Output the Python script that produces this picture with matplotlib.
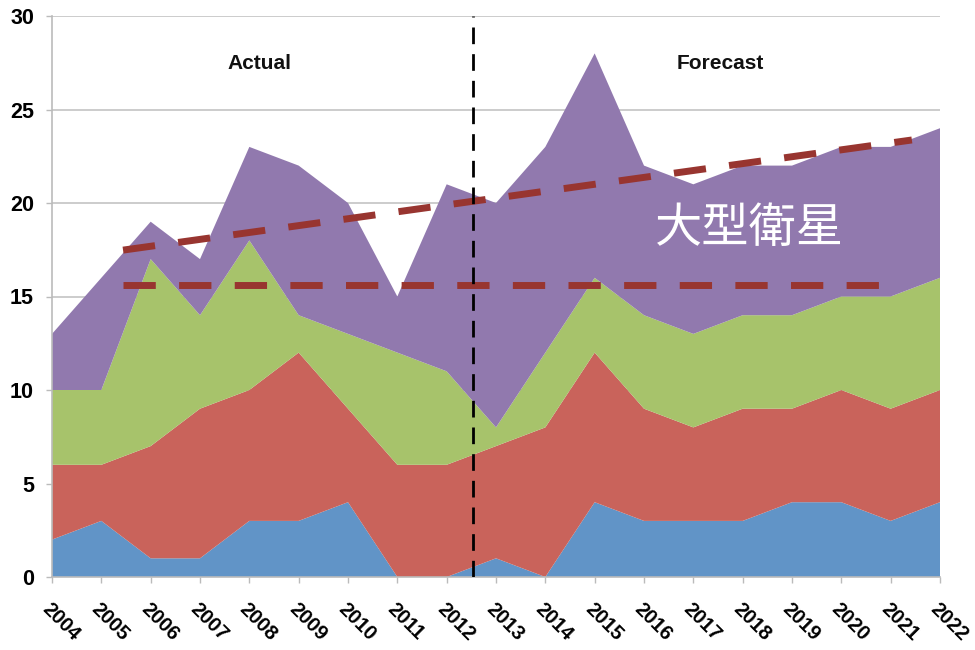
import matplotlib
matplotlib.use("Agg")
import matplotlib.pyplot as plt
import numpy as np

years = list(range(2004, 2023))
blue =   [2, 3, 1, 1, 3, 3, 4, 0, 0, 1, 0, 4, 3, 3, 3, 4, 4, 3, 4]
red_top = [6, 6, 7, 9, 10, 12, 9, 6, 6, 7, 8, 12, 9, 8, 9, 9, 10, 9, 10]
green_top = [10, 10, 17, 14, 18, 14, 13, 12, 11, 8, 12, 16, 14, 13, 14, 14, 15, 15, 16]
purple_top = [13, 16, 19, 17, 23, 22, 20, 15, 21, 20, 23, 28, 22, 21, 22, 22, 23, 23, 24]

red = [r - b for r, b in zip(red_top, blue)]
green = [g - r for g, r in zip(green_top, red_top)]
purple = [p - g for p, g in zip(purple_top, green_top)]

colors = ["#6194c7", "#c9635b", "#a7c36b", "#9179ae"]

trend_x = [2005.44, 2021.43]
trend_y = [17.48, 23.37]
flat_x = [2005.44, 2020.84]
flat_y = [15.6, 15.6]
divider_x = 2012.53

fig = plt.figure(figsize=(9.75, 6.5), dpi=100)
ax = fig.add_axes([52/975, 1-577/650, (940-52)/975, (577-16)/650])

ax.stackplot(years, blue, red, green, purple, colors=colors, linewidth=0, zorder=2)

ax.set_xlim(2004, 2022)
ax.set_ylim(0, 30)
ax.set_yticks([0, 5, 10, 15, 20, 25, 30])
ax.set_xticks(years)
ax.grid(axis="y", color="#c8c8c8", linewidth=1.3, zorder=0)
ax.set_axisbelow(True)
for s in ["top", "right"]:
    ax.spines[s].set_visible(False)
for s in ["left", "bottom"]:
    ax.spines[s].set_color("#bbbbbb")
    ax.spines[s].set_linewidth(1.2)
ax.tick_params(axis="both", colors="#bbbbbb", length=4, width=1.0)
ax.tick_params(axis="y", labelcolor="black", labelsize=15.5, pad=9)
ax.tick_params(axis="x", labelcolor="black", labelsize=14.5, pad=12)
for lab in ax.get_yticklabels():
    lab.set_fontweight("bold")
    lab.set_family("Liberation Sans")
ax.set_xticklabels([str(y) for y in years], rotation=-45, ha="left", va="top",
                   rotation_mode="anchor", fontweight="bold", family="Liberation Sans")

ax.plot(trend_x, trend_y, color="#983530", linewidth=5, dashes=(4.65, 3.36), zorder=4,
        dash_capstyle="butt")
ax.plot(flat_x, flat_y, color="#983530", linewidth=5, dashes=(4.65, 3.36), zorder=4,
        dash_capstyle="butt")
ax.axvline(divider_x, color="black", linewidth=2.0, dashes=(6, 3.6), zorder=5)

ax.text(2008.2, 27.45, "Actual", ha="center", va="center", fontsize=15,
        fontweight="bold", family="Liberation Sans", color="#111111")
ax.text(2017.55, 27.45, "Forecast", ha="center", va="center", fontsize=15,
        fontweight="bold", family="Liberation Sans", color="#111111")
ax.text(2018.13, 18.6, "大型衛星", ha="center", va="center", fontsize=34,
        color="white", family=["Noto Sans CJK JP", "DejaVu Sans"])

fig.savefig("out.png", dpi=100)
